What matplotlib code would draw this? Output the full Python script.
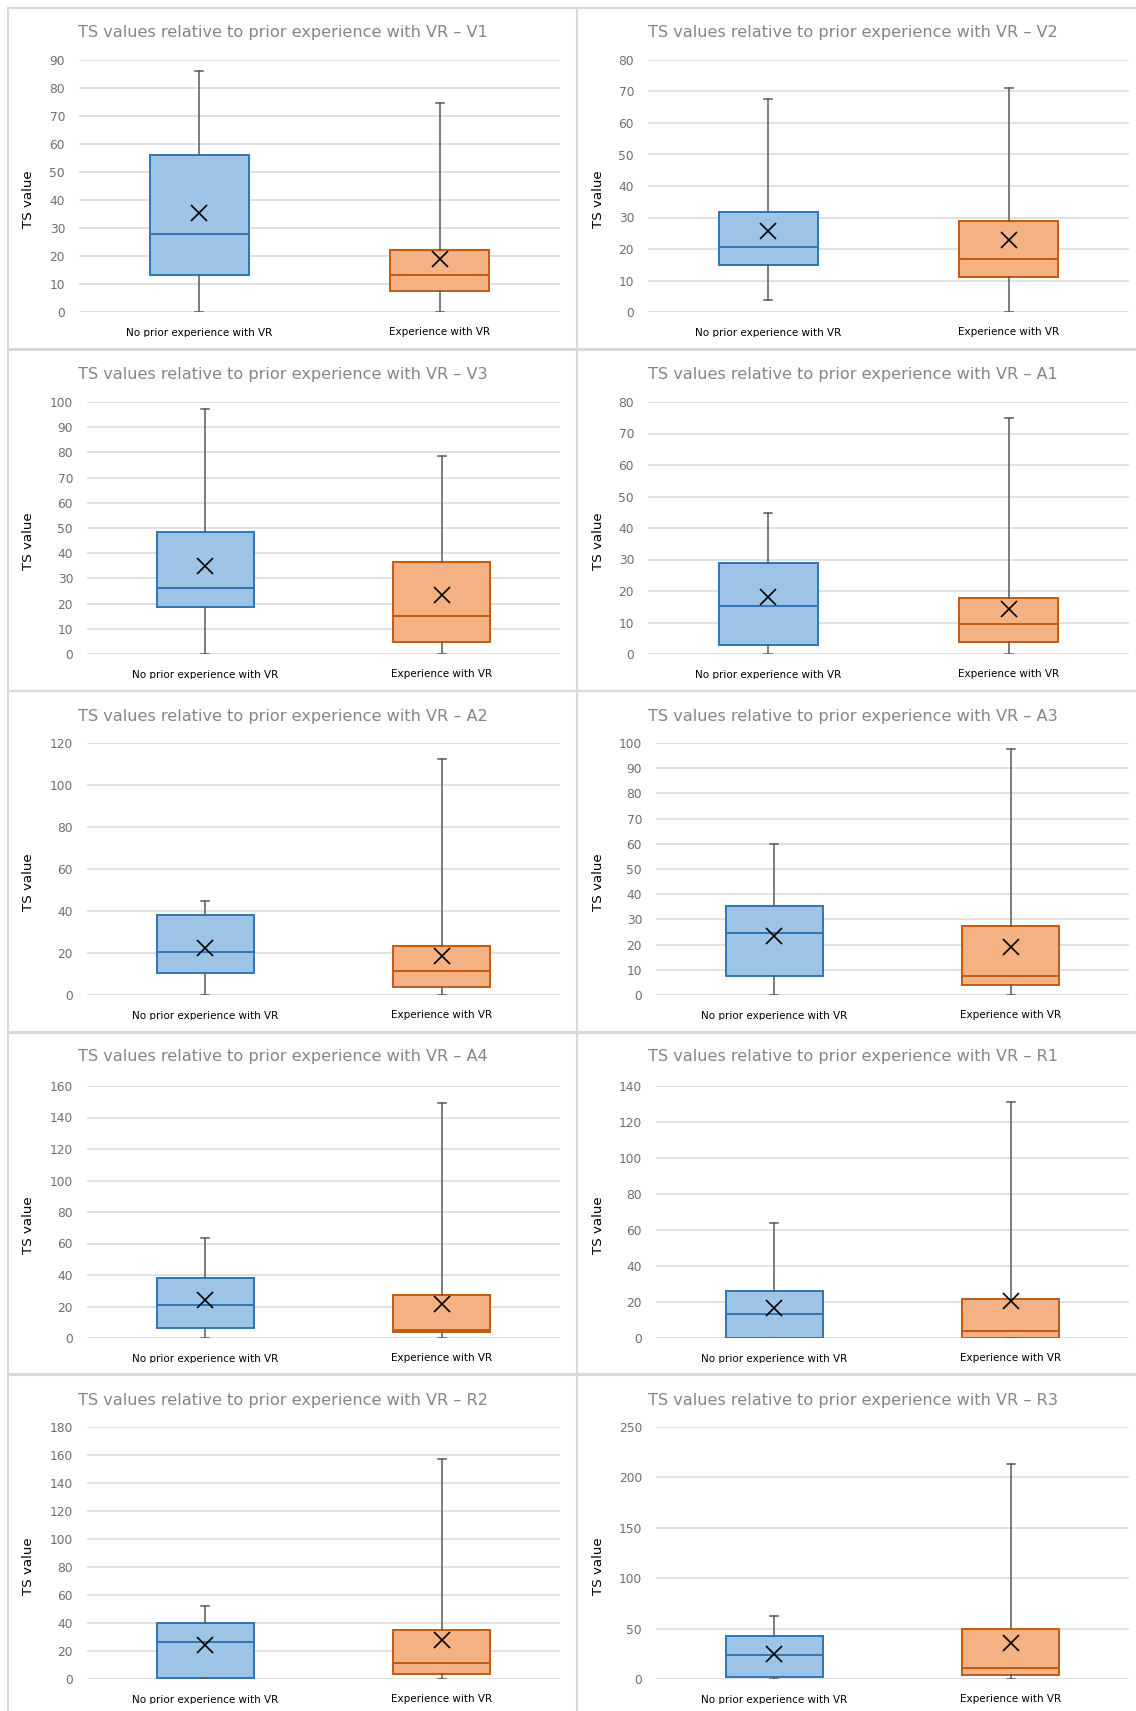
import matplotlib
matplotlib.use("Agg")
import matplotlib.pyplot as plt
from matplotlib.patches import Rectangle
from matplotlib.transforms import Bbox, TransformedBbox, offset_copy

W, H = 1136, 1711
DPI = 100

panel_codes = ["V1", "V2", "V3", "A1", "A2", "A3", "A4", "R1", "R2", "R3"]
groups = ["No prior experience with VR", "Experience with VR"]

# Box statistics, participants without prior VR experience
none_min = [0, 3.7, 0, 0, 0, 0, 0, 0, 0, 0]
none_q1 = [13.1, 14.9, 18.8, 2.8, 10.4, 7.4, 6.1, 0, 0.5, 2.3]
none_med = [28.0, 20.6, 26.3, 15.1, 20.7, 24.5, 20.7, 13.3, 26.3, 24.0]
none_q3 = [56.2, 31.9, 48.4, 28.9, 38.2, 35.5, 38.2, 26.2, 40.0, 42.8]
none_max = [86.2, 67.5, 97.1, 44.7, 44.8, 60.0, 63.2, 63.9, 52.0, 62.9]
none_mean = [35.2, 25.8, 35.1, 18.2, 22.6, 23.6, 24.2, 16.6, 24.6, 24.7]

# Box statistics, participants with VR experience
exp_min = [0, 0, 0, 0, 0, 0, 0, 0, 0, 0]
exp_q1 = [7.4, 11.2, 4.9, 3.9, 3.8, 3.8, 3.6, 0, 3.8, 4.0]
exp_med = [13.1, 16.8, 14.9, 9.4, 11.4, 7.4, 5.3, 3.7, 11.1, 11.2]
exp_q3 = [22.3, 29.0, 36.4, 17.7, 23.2, 27.2, 27.6, 21.6, 35.2, 49.4]
exp_max = [74.8, 71.0, 78.6, 74.8, 112.3, 97.5, 149.4, 131.0, 156.8, 213.1]
exp_mean = [19.1, 23.0, 23.6, 14.3, 18.8, 18.9, 21.7, 20.8, 28.1, 36.2]

# Value axis range and major unit per chart
y_max = [90, 80, 100, 80, 120, 100, 160, 140, 180, 250]
y_step = [10, 10, 10, 10, 20, 10, 20, 20, 20, 50]

fill_colors = ["#9DC3E6", "#F4B183"]
edge_colors = ["#2E75B6", "#C55A11"]
whisker_color = "#595959"
grid_color = "#D9D9D9"
border_color = "#D9D9D9"

# Page layout in pixels (measured from the top-left corner)
row_tops = [8, 349, 691, 1032, 1375]
row_h = 342
col_lefts = [8, 577]
col_w = 569
plot_top_off = [52, 53, 52, 54, 52]
plot_h = 252
plot_right = [560, 1129]
title_x = [283, 853]
ylabel_x = [29, 599]
label_drop = [16, 15]

plt.rcParams["font.family"] = ["DejaVu Sans"]
fig = plt.figure(figsize=(W / DPI, H / DPI), dpi=DPI)
fig.patch.set_facecolor("white")


def fx(px):
    return px / W


def fy(py):
    return 1 - py / H


# chart frames
for r in range(5):
    for c in range(2):
        x0 = col_lefts[c]
        y0 = row_tops[r]
        rect = Rectangle((fx(x0), fy(y0 + row_h)), col_w / W, row_h / H,
                         transform=fig.transFigure, fill=False,
                         edgecolor=border_color, linewidth=1.5, zorder=0)
        fig.patches.append(rect)

for i, code in enumerate(panel_codes):
    r, c = divmod(i, 2)
    top = row_tops[r] + plot_top_off[r]
    right = plot_right[c]
    width = 481 if y_max[i] < 100 else 473
    left = right - width
    ax = fig.add_axes([fx(left), fy(top + plot_h), width / W, plot_h / H])

    stats = [
        dict(med=none_med[i], q1=none_q1[i], q3=none_q3[i],
             whislo=none_min[i], whishi=none_max[i], mean=none_mean[i],
             fliers=[], label=groups[0]),
        dict(med=exp_med[i], q1=exp_q1[i], q3=exp_q3[i],
             whislo=exp_min[i], whishi=exp_max[i], mean=exp_mean[i],
             fliers=[], label=groups[1]),
    ]
    res = ax.bxp(stats, positions=[1, 2], widths=0.41, showmeans=True,
                 patch_artist=True, capwidths=0.035, manage_ticks=False,
                 whiskerprops=dict(color=whisker_color, linewidth=1.1),
                 capprops=dict(color=whisker_color, linewidth=1.1),
                 meanprops=dict(marker="x", markeredgecolor="black",
                                markersize=11, markeredgewidth=1.2),
                 zorder=3)
    for k in range(2):
        res["boxes"][k].set_facecolor(fill_colors[k])
        res["boxes"][k].set_edgecolor(edge_colors[k])
        res["boxes"][k].set_linewidth(1.4)
        res["medians"][k].set_color(edge_colors[k])
        res["medians"][k].set_linewidth(1.4)

    ax.set_xlim(0.5, 2.5)
    ax.set_ylim(0, y_max[i])
    ax.set_yticks(list(range(0, y_max[i] + 1, y_step[i])))
    ax.set_xticks([])
    ax.tick_params(axis="y", length=0, pad=10, labelsize=8.8,
                   labelcolor="#6E6E6E")
    ax.yaxis.grid(True, color=grid_color, linewidth=1.1)
    ax.set_axisbelow(True)
    for sp in ax.spines.values():
        sp.set_visible(False)

    # category labels, cut off just below their baseline
    clip_bottom = top + plot_h + 25
    clip = TransformedBbox(Bbox.from_extents(fx(col_lefts[c]), fy(clip_bottom),
                                             fx(col_lefts[c] + col_w), fy(row_tops[r])),
                           fig.transFigure)
    for k, g in enumerate(groups):
        base = offset_copy(ax.get_xaxis_transform(), fig=fig,
                           y=-label_drop[k], units="dots")
        t = ax.text(k + 1, 0, g, transform=base, ha="center", va="top",
                    fontsize=7.5, color="black", clip_on=True)
        t.set_clip_path(None)
        t.set_clip_box(clip)

    fig.text(fx(title_x[c]), fy(row_tops[r] + 25),
             "TS values relative to prior experience with VR \u2013 " + code,
             ha="center", va="center", fontsize=11.6, color="#858585")
    fig.text(fx(ylabel_x[c]), fy(top + plot_h / 2 + 13), "TS value",
             rotation=90, ha="center", va="center", fontsize=9.6, color="black")

fig.savefig("out.png", dpi=DPI, facecolor="white")
